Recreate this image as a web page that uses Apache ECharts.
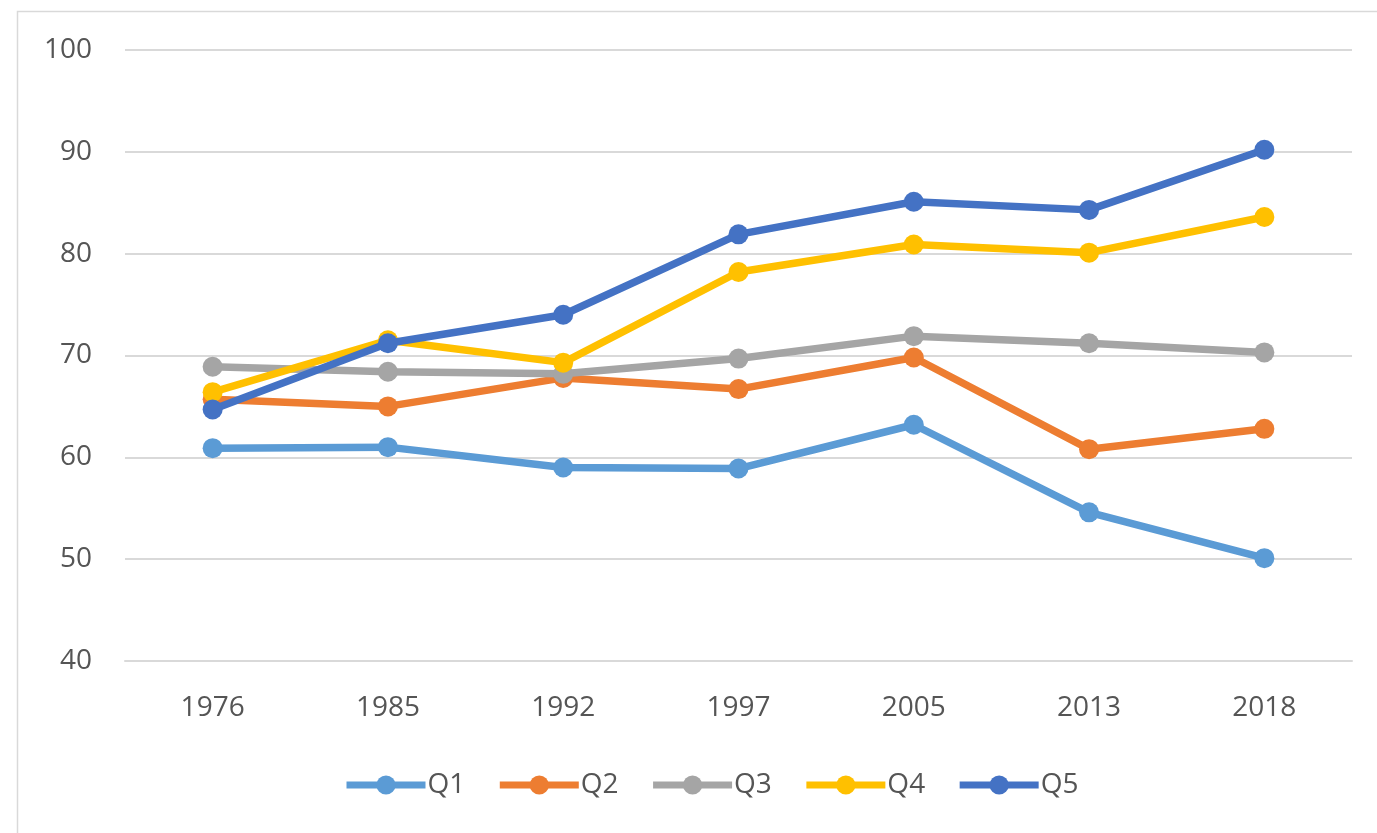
<!DOCTYPE html>
<html>
<head>
<meta charset="utf-8">
<script src="https://cdn.jsdelivr.net/npm/echarts@6/dist/echarts.min.js"></script>
<style>
html,body{margin:0;padding:0;background:#fff;}
#chart{width:1377px;height:833px;}
</style>
</head>
<body>
<div id="chart"></div>
<script>
const categories = ['1976','1985','1992','1997','2005','2013','2018'];
const seriesNames = ['Q1','Q2','Q3','Q4','Q5'];
const q1 = [60.9, 61.0, 59.0, 58.9, 63.2, 54.6, 50.1];
const q2 = [65.7, 65.0, 67.8, 66.7, 69.8, 60.8, 62.8];
const q3 = [68.9, 68.4, 68.2, 69.7, 71.9, 71.2, 70.3];
const q4 = [66.4, 71.5, 69.3, 78.2, 80.9, 80.1, 83.6];
const q5 = [64.7, 71.2, 74.0, 81.9, 85.1, 84.3, 90.2];
const yTicks = [40, 50, 60, 70, 80, 90, 100];

const colors = ['#5B9BD5','#ED7D31','#A5A5A5','#FFC000','#4472C4'];
const dataSets = [q1, q2, q3, q4, q5];
const font = '"Open Sans", sans-serif';

const chart = echarts.init(document.getElementById('chart'), null, {renderer:'canvas'});
chart.setOption({
  backgroundColor: '#ffffff',
  animation: false,
  color: colors,
  graphic: [{
    type: 'rect',
    left: 15, top: 9,
    shape: {x: 0, y: 0, width: 1420, height: 900},
    style: {fill: 'none', stroke: '#d9d9d9', lineWidth: 1.5},
    silent: true
  }],
  grid: {left: 125, right: 25, top: 50, bottom: 172, containLabel: false},
  legend: {
    data: seriesNames,
    left: 338,
    top: 766,
    itemWidth: 79,
    itemHeight: 24,
    itemGap: 31,
    lineStyle: {width: 7},
    textStyle: {color: '#555555', fontSize: 28, fontFamily: font, padding: [0,0,0,-3]}
  },
  xAxis: {
    type: 'category',
    data: categories,
    boundaryGap: true,
    axisLine: {show: true, lineStyle: {color: '#d9d9d9', width: 2}},
    axisTick: {show: false},
    axisLabel: {color: '#555555', fontSize: 28, fontFamily: font, margin: 33}
  },
  yAxis: {
    type: 'value',
    min: yTicks[0],
    max: yTicks[yTicks.length - 1],
    interval: 10,
    axisLine: {show: false},
    axisTick: {show: false},
    axisLabel: {color: '#555555', fontSize: 28, fontFamily: font, margin: 33},
    splitLine: {lineStyle: {color: '#d9d9d9', width: 2}}
  },
  series: dataSets.map((d, i) => ({
    name: seriesNames[i],
    type: 'line',
    data: d,
    symbol: 'circle',
    symbolSize: 20,
    lineStyle: {width: 7.5, color: colors[i]},
    itemStyle: {color: colors[i]},
    z: 2 + i
  }))
});
</script>
</body>
</html>
